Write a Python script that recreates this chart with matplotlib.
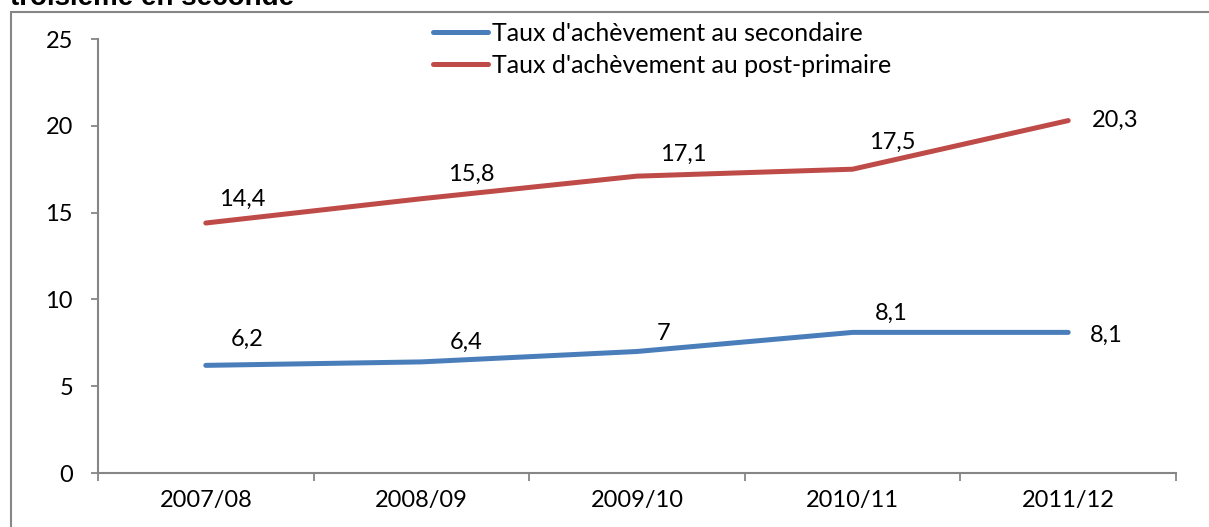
import matplotlib
matplotlib.use('Agg')
import matplotlib.pyplot as plt
from matplotlib.patches import Rectangle

# data
years = ['2007/08', '2008/09', '2009/10', '2010/11', '2011/12']
secondaire = [6.2, 6.4, 7.0, 8.1, 8.1]
post_primaire = [14.4, 15.8, 17.1, 17.5, 20.3]
lab_secondaire = ['6,2', '6,4', '7', '8,1', '8,1']
lab_post_primaire = ['14,4', '15,8', '17,1', '17,5', '20,3']
yticks = [0, 5, 10, 15, 20, 25]

# label offsets in pixels (dx, dy), last one is placed to the right
off_sec = [(41, 26), (45, 20), (27, 18), (39, 19), (22, -3)]
off_post = [(36, 24), (50, 24), (46, 22), (40, 27), (24, 0)]

blue = '#4A7EBB'
red = '#BE4B48'
gray = '#868686'
font = 'Lato'
fs = 17

fig = plt.figure(figsize=(12.09, 5.27), dpi=100)
ax = fig.add_axes([98 / 1209, 1 - 473 / 527, (1176 - 98) / 1209, (473 - 39) / 527])

x = list(range(len(years)))
ax.plot(x, secondaire, color=blue, lw=3.6, solid_capstyle='round',
        label="Taux d'achèvement au secondaire")
ax.plot(x, post_primaire, color=red, lw=3.6, solid_capstyle='round',
        label="Taux d'achèvement au post-primaire")

for vals, labs, offs in [(secondaire, lab_secondaire, off_sec),
                         (post_primaire, lab_post_primaire, off_post)]:
    for i, (v, t, o) in enumerate(zip(vals, labs, offs)):
        last = i == len(vals) - 1
        ax.annotate(t, (i, v), xytext=o, textcoords='offset pixels',
                    ha='left' if last else 'center', va='center',
                    fontsize=fs, family=font, color='black')

ax.set_xlim(-0.5, len(years) - 0.5)
ax.set_ylim(0, 25)
ax.set_yticks(yticks)
ax.set_yticklabels([str(t) for t in yticks], family=font, fontsize=fs)
ax.set_xticks(x)
ax.set_xticklabels(years, family=font, fontsize=fs)
ax.set_xticks([i - 0.5 for i in range(len(years) + 1)], minor=True)
ax.tick_params(axis='x', which='major', length=0, pad=12)
ax.tick_params(axis='x', which='minor', length=5.5, width=1.3, color=gray)
ax.tick_params(axis='y', length=5, width=1.3, color=gray, pad=13)
for s in ['top', 'right']:
    ax.spines[s].set_visible(False)
for s in ['left', 'bottom']:
    ax.spines[s].set_color(gray)
    ax.spines[s].set_linewidth(1.5)

leg = fig.legend(loc='upper left', bbox_to_anchor=(433 / 1209, 1 - 22 / 527),
                 frameon=False, prop={'family': font, 'size': 18},
                 handlelength=2.2, handletextpad=0.15, labelspacing=0.35,
                 borderpad=0, borderaxespad=0)

# outer frame of the chart object
fig.patches.append(Rectangle((11 / 1209, -0.1), 1.2, 1 - 12 / 527 + 0.1,
                             transform=fig.transFigure, fill=False,
                             edgecolor=gray, lw=1.5))

# clipped title above the frame
fig.text(10 / 1209, 1 - 5 / 527, 'troisième en seconde', family='Liberation Sans',
         weight='bold', fontsize=20, va='baseline', ha='left')

fig.savefig('out.png', dpi=100)
